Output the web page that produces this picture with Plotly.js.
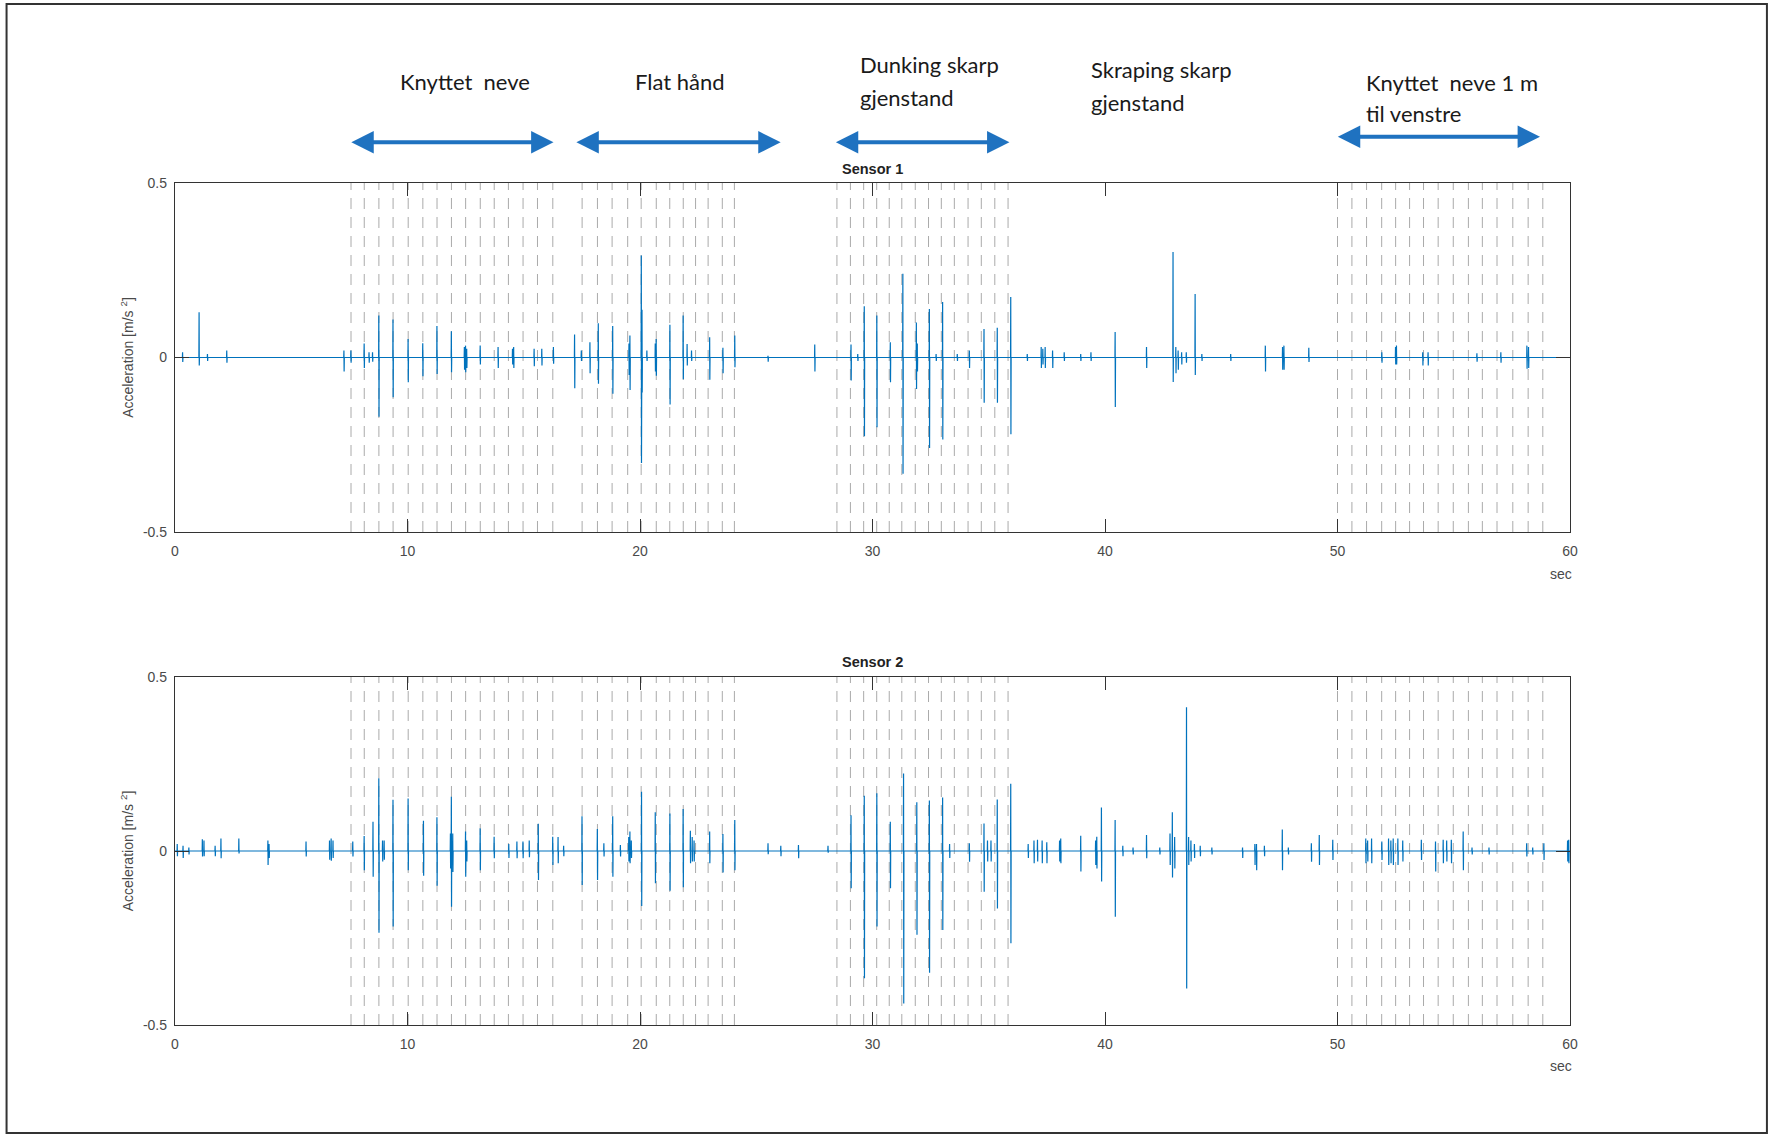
<!DOCTYPE html>
<html>
<head>
<meta charset="utf-8">
<script src="https://cdn.plot.ly/plotly-3.0.1.min.js"></script>
<style>
  html, body { margin: 0; padding: 0; background: #ffffff; }
  #chart { width: 1774px; height: 1136px; }
</style>
</head>
<body>
<div id="chart"></div>
<script>
// ---------------- DATA ----------------
// Sensor 1 spikes: time (s), positive peak, negative peak (m/s^2)
const s1Times = [0.33,1.04,1.4,2.23,7.27,7.57,8.14,8.35,8.5,8.77,9.38,10.03,10.66,11.27,11.89,12.45,12.5,12.55,13.13,13.9,14.52,14.57,15.45,15.78,16.28,17.19,17.48,17.85,18.21,18.83,19.53,19.57,20.06,20.09,20.3,20.66,20.7,21.29,21.86,22.03,22.22,23.0,23.57,24.08,25.51,27.52,29.08,29.37,29.65,30.19,30.77,31.31,31.89,31.93,32.45,32.74,33.02,33.65,34.17,34.8,35.37,35.95,36.66,37.26,37.33,37.43,37.75,38.25,38.96,39.4,40.44,41.79,42.93,43.05,43.15,43.3,43.5,43.88,44.17,45.41,46.9,47.64,47.7,48.77,51.91,52.5,52.54,53.67,53.9,56.0,57.03,58.15,58.22];
const s1Peaks = [0.015,0.13,0.01,0.02,0.02,0.02,0.04,0.015,0.015,0.12,0.109,0.053,0.041,0.09,0.075,0.03,0.034,0.025,0.034,0.03,0.025,0.03,0.025,0.025,0.03,0.066,0.02,0.044,0.098,0.09,0.04,0.063,0.292,0.137,0.02,0.04,0.053,0.094,0.12,0.039,0.02,0.058,0.028,0.063,0.005,0.037,0.037,0.01,0.147,0.12,0.044,0.24,0.1,0.04,0.139,0.01,0.159,0.01,0.02,0.082,0.085,0.173,0.01,0.03,0.025,0.03,0.02,0.015,0.01,0.015,0.073,0.03,0.302,0.03,0.02,0.015,0.015,0.182,0.01,0.01,0.034,0.03,0.034,0.028,0.015,0.03,0.034,0.015,0.015,0.012,0.015,0.034,0.03];
const s1Troughs = [-0.013,-0.023,-0.01,-0.015,-0.04,-0.015,-0.03,-0.015,-0.012,-0.17,-0.114,-0.071,-0.054,-0.047,-0.042,-0.035,-0.042,-0.03,-0.02,-0.03,-0.02,-0.03,-0.025,-0.023,-0.018,-0.088,-0.01,-0.045,-0.075,-0.104,-0.05,-0.093,-0.302,-0.1,-0.01,-0.04,-0.052,-0.135,-0.062,-0.023,-0.01,-0.064,-0.045,-0.028,-0.012,-0.04,-0.066,-0.01,-0.226,-0.2,-0.071,-0.333,-0.09,-0.04,-0.259,-0.01,-0.235,-0.01,-0.03,-0.13,-0.13,-0.22,-0.01,-0.03,-0.02,-0.03,-0.03,-0.01,-0.01,-0.01,-0.142,-0.03,-0.07,-0.045,-0.035,-0.02,-0.015,-0.05,-0.01,-0.01,-0.04,-0.035,-0.035,-0.013,-0.015,-0.02,-0.02,-0.023,-0.023,-0.012,-0.015,-0.032,-0.03];

// Sensor 2 spikes
const s2Times = [0.1,0.35,0.6,1.18,1.25,1.73,1.98,2.75,4.0,4.05,5.64,6.65,6.72,6.8,7.65,8.14,8.52,8.77,8.93,9.0,9.38,10.03,10.69,11.27,11.85,11.89,11.95,12.5,12.55,13.13,13.73,14.36,14.71,14.97,15.24,15.63,16.25,16.48,16.72,17.51,18.17,18.45,18.83,19.16,19.52,19.57,19.63,20.07,20.66,21.29,21.86,22.17,22.25,22.33,23.0,23.57,24.08,25.51,26.06,26.82,28.09,29.08,29.65,30.19,30.77,31.34,31.91,32.45,33.02,33.32,34.17,34.8,34.95,35.1,35.37,35.95,36.7,36.95,37.1,37.3,37.5,38.05,38.1,38.96,39.6,39.65,39.85,40.44,40.77,41.21,41.79,42.36,42.8,42.9,43.0,43.51,43.6,43.7,43.85,44.1,44.6,45.92,46.45,46.52,46.86,47.63,47.89,48.88,49.22,49.8,51.22,51.3,51.47,51.91,52.2,52.3,52.4,52.6,52.81,53.61,54.22,54.55,54.7,54.9,55.41,55.79,56.52,58.14,58.4,58.88,59.9,59.95];
const s2Peaks = [0.02,0.015,0.01,0.034,0.03,0.015,0.036,0.036,0.03,0.02,0.027,0.03,0.036,0.03,0.027,0.043,0.084,0.209,0.03,0.03,0.147,0.151,0.087,0.097,0.05,0.156,0.05,0.056,0.03,0.065,0.041,0.02,0.027,0.027,0.03,0.078,0.041,0.04,0.015,0.1,0.063,0.022,0.1,0.017,0.04,0.056,0.03,0.17,0.111,0.108,0.121,0.058,0.04,0.03,0.056,0.049,0.089,0.022,0.015,0.017,0.015,0.103,0.159,0.166,0.084,0.223,0.14,0.145,0.154,0.02,0.022,0.079,0.03,0.03,0.148,0.193,0.02,0.03,0.032,0.03,0.025,0.03,0.036,0.044,0.03,0.041,0.125,0.089,0.015,0.01,0.046,0.01,0.05,0.111,0.04,0.413,0.04,0.03,0.02,0.015,0.01,0.01,0.02,0.02,0.015,0.062,0.01,0.022,0.046,0.032,0.036,0.03,0.036,0.027,0.036,0.03,0.036,0.036,0.03,0.032,0.027,0.032,0.03,0.032,0.056,0.01,0.01,0.022,0.01,0.022,0.03,0.032];
const s2Troughs = [-0.015,-0.02,-0.01,-0.016,-0.015,-0.015,-0.021,-0.007,-0.04,-0.02,-0.016,-0.025,-0.028,-0.02,-0.016,-0.055,-0.074,-0.235,-0.03,-0.025,-0.217,-0.055,-0.071,-0.1,-0.05,-0.16,-0.06,-0.074,-0.03,-0.055,-0.021,-0.02,-0.021,-0.021,-0.018,-0.083,-0.04,-0.035,-0.015,-0.098,-0.083,-0.016,-0.074,-0.016,-0.03,-0.035,-0.02,-0.158,-0.093,-0.114,-0.104,-0.035,-0.03,-0.03,-0.035,-0.062,-0.055,-0.009,-0.015,-0.021,-0.005,-0.107,-0.366,-0.217,-0.107,-0.438,-0.241,-0.35,-0.227,-0.02,-0.031,-0.117,-0.03,-0.03,-0.165,-0.265,-0.02,-0.035,-0.03,-0.035,-0.035,-0.03,-0.035,-0.059,-0.04,-0.05,-0.088,-0.189,-0.015,-0.01,-0.021,-0.01,-0.04,-0.076,-0.05,-0.395,-0.04,-0.03,-0.02,-0.015,-0.01,-0.02,-0.04,-0.055,-0.015,-0.055,-0.01,-0.031,-0.04,-0.026,-0.035,-0.03,-0.035,-0.026,-0.04,-0.035,-0.04,-0.04,-0.03,-0.026,-0.059,-0.035,-0.03,-0.035,-0.055,-0.01,-0.01,-0.016,-0.01,-0.026,-0.03,-0.035];

// Dashed marker lines (s)
const markerTimes = [7.57,8.14,8.77,9.38,10.03,10.66,11.27,11.89,12.5,13.13,13.73,14.34,14.97,15.59,16.25,
  17.51,18.17,18.8,19.47,20.05,20.7,21.28,21.86,22.39,22.93,23.54,24.06,
  28.47,29.05,29.62,30.18,30.72,31.26,31.84,32.41,32.96,33.52,34.11,34.68,35.26,35.83,
  50.0,50.62,51.25,51.9,52.5,53.1,53.7,54.33,54.98,55.63,56.23,56.86,57.54,58.2,58.83];

// Activity annotations
const activityLabels = ["Knyttet  neve", "Flat hånd", "Dunking skarp<br>gjenstand", "Skraping skarp<br>gjenstand", "Knyttet  neve 1 m<br>til venstre"];
const labelX = [12.46, 21.74, 29.39, 39.3, 51.14];
const arrowStart = [7.52, 17.2, 28.36, 49.95];
const arrowEnd = [16.28, 26.05, 35.89, 58.71];

const xTicks = [0, 10, 20, 30, 40, 50, 60];
const yTicks = [-0.5, 0, 0.5];
const yTickText = ["-0.5", "0", "0.5"];

// ---------------- BUILD ----------------
function buildSignal(times, peaks, troughs) {
  const x = [0], y = [0];
  for (let i = 0; i < times.length; i++) {
    const t = times[i];
    x.push(t - 0.012, t - 0.004, t + 0.004, t + 0.012);
    y.push(0, peaks[i], troughs[i], 0);
  }
  x.push(60); y.push(0);
  return {x, y};
}
const sig1 = buildSignal(s1Times, s1Peaks, s1Troughs);
const sig2 = buildSignal(s2Times, s2Peaks, s2Troughs);

const lineColor = '#0072BD';
const traces = [
  {type: 'scatter', mode: 'lines', x: sig1.x, y: sig1.y, xaxis: 'x', yaxis: 'y',
   line: {color: lineColor, width: 1.2}, hoverinfo: 'skip'},
  {type: 'scatter', mode: 'lines', x: sig2.x, y: sig2.y, xaxis: 'x2', yaxis: 'y2',
   line: {color: lineColor, width: 1.2}, hoverinfo: 'skip'}
];

// pixel geometry
const W = 1774, H = 1136;
const mL = 174.5, mR = 204, mT = 183, mB = 111;
const pw = W - mL - mR, ph = H - mT - mB;
const px2x = p => (p - mL) / pw;
const py2y = p => (H - mB - p) / ph;

const tickFont = {family: 'Liberation Sans, Arial, sans-serif', size: 14, color: '#4a4a4a'};
function xAx(anchor) {
  return {
    anchor: anchor, domain: [0, 1], range: [0, 60], tickvals: xTicks, ticktext: xTicks.map(String),
    ticks: 'inside', ticklen: 13, tickwidth: 1, tickcolor: '#333', showline: true, linecolor: '#333',
    linewidth: 1.2, mirror: 'ticks', showgrid: false, zeroline: false, tickfont: tickFont,
    ticklabelstandoff: 6, fixedrange: true
  };
}
function yAx(anchor, domain) {
  return {
    anchor: anchor, domain: domain, range: [-0.5, 0.5], tickvals: yTicks, ticktext: yTickText,
    ticks: 'inside', ticklen: 14, tickwidth: 1, tickcolor: '#333', showline: true, linecolor: '#333',
    linewidth: 1.2, mirror: 'ticks', showgrid: false, zeroline: false, tickfont: tickFont,
    ticklabelstandoff: 4, fixedrange: true,
    title: {text: 'Acceleration [m/s <sup>2</sup>]', font: {family: 'Liberation Sans, Arial, sans-serif', size: 14, color: '#4a4a4a'}, standoff: 6}
  };
}

const shapes = [];
markerTimes.forEach(t => {
  ['', '2'].forEach(s => {
    shapes.push({type: 'line', xref: 'x' + s, yref: 'y' + s + ' domain', x0: t, x1: t, y0: 0, y1: 1,
      line: {color: '#aaaaaa', width: 1, dash: '11px,8px'}, layer: 'below'});
  });
});
// outer frame
shapes.push({type: 'rect', xref: 'paper', yref: 'paper',
  x0: px2x(6), x1: px2x(1767), y0: py2y(1133), y1: py2y(4),
  line: {color: '#333', width: 2}, fillcolor: 'rgba(0,0,0,0)'});

const annFont = {family: 'Lato, Carlito, Calibri, sans-serif', size: 22, color: '#1a1a1a'};
const annotations = [];
// labels: each line placed separately (first-line centre in px, line spacing in px)
const labelFirstLinePx = [81.5, 81.5, 64.5, 69, 82.6];
const labelLineGapPx = [0, 0, 33, 33, 30.5];
const labelAnchor = ['center', 'center', 'left', 'left', 'left'];
activityLabels.forEach((txt, i) => {
  txt.split('<br>').forEach((line, j) => {
    annotations.push({text: line, x: labelX[i], xref: 'x',
      y: py2y(labelFirstLinePx[i] + j * labelLineGapPx[i]), yref: 'paper',
      xanchor: labelAnchor[i], yanchor: 'middle', align: 'left', showarrow: false, font: annFont});
  });
});
// arrows
const arrowY = [py2y(142.3), py2y(142.3), py2y(142.3), py2y(136.7)];
arrowStart.forEach((s, i) => {
  annotations.push({text: '', x: arrowEnd[i], xref: 'x', y: arrowY[i], yref: 'paper',
    ax: s, axref: 'x', ay: 0, ayref: 'pixel', showarrow: true,
    arrowhead: 2, startarrowhead: 2, arrowside: 'end+start', arrowwidth: 4,
    arrowsize: 1.12, startarrowsize: 1.12, arrowcolor: '#1f72c0', standoff: 0, startstandoff: 0});
});
// subplot titles
annotations.push({text: '<b>Sensor 1</b>', x: 0.5, xref: 'paper', y: py2y(169), yref: 'paper',
  xanchor: 'center', yanchor: 'middle', showarrow: false,
  font: {family: 'Liberation Sans, Arial, sans-serif', size: 14.5, color: '#222'}});
annotations.push({text: '<b>Sensor 2</b>', x: 0.5, xref: 'paper', y: py2y(662), yref: 'paper',
  xanchor: 'center', yanchor: 'middle', showarrow: false,
  font: {family: 'Liberation Sans, Arial, sans-serif', size: 14.5, color: '#222'}});
// "sec" unit labels
[574, 1066].forEach(py => {
  annotations.push({text: 'sec', x: px2x(1574), xref: 'paper', y: py2y(py), yref: 'paper',
    xanchor: 'right', yanchor: 'middle', showarrow: false,
    font: {family: 'Liberation Sans, Arial, sans-serif', size: 14, color: '#4a4a4a'}});
});

const layout = {
  width: W, height: H,
  margin: {l: mL, r: mR, t: mT, b: mB, pad: 0},
  paper_bgcolor: '#ffffff', plot_bgcolor: '#ffffff',
  showlegend: false,
  xaxis: xAx('y'),
  yaxis: yAx('x', [py2y(532), 1]),
  xaxis2: xAx('y2'),
  yaxis2: yAx('x2', [0, py2y(677)]),
  shapes: shapes,
  annotations: annotations
};

Plotly.newPlot('chart', traces, layout, {staticPlot: true, displayModeBar: false});
</script>
</body>
</html>
